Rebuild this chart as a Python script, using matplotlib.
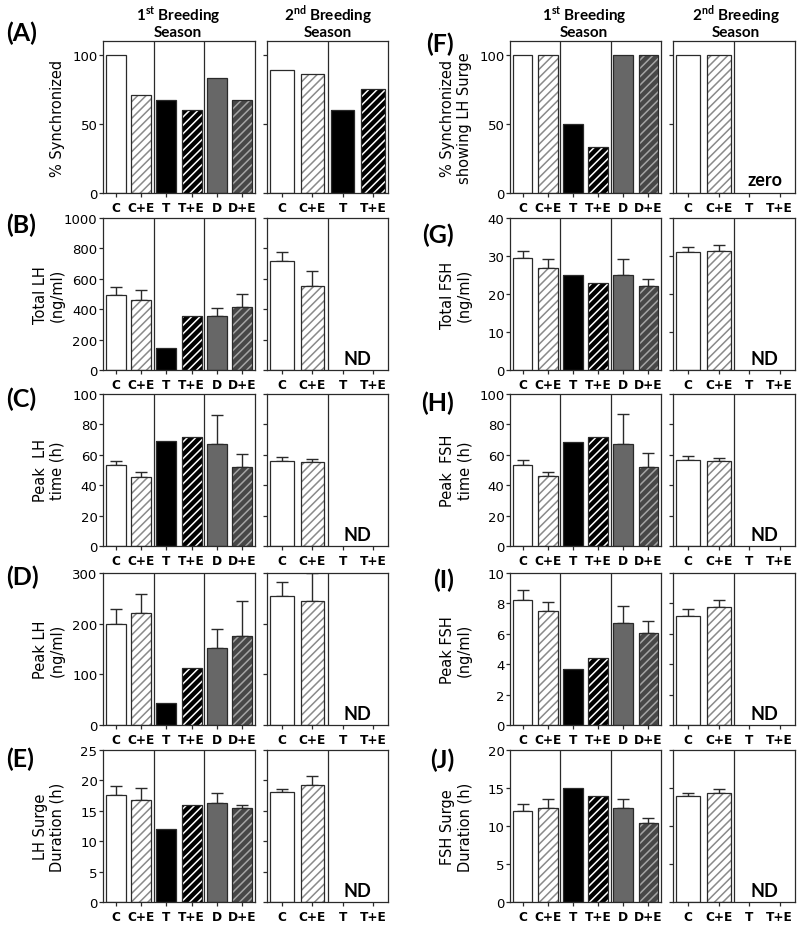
"""Hormone surge panels, 1st and 2nd breeding season."""

import numpy as np
import matplotlib.pyplot as plt
from matplotlib import transforms

plt.rcParams["font.family"] = ["DejaVu Sans"]
plt.rcParams["mathtext.fontset"] = "custom"
plt.rcParams["mathtext.bf"] = "Lato:bold"
plt.rcParams["mathtext.rm"] = "Lato"
plt.rcParams["hatch.linewidth"] = 1.1

groups_1st = ["C", "C+E", "T", "T+E", "D", "D+E"]
groups_2nd = ["C", "C+E", "T", "T+E"]

# (A) % synchronized
sync_1st = [100, 71, 67, 60, 83, 67]
sync_2nd = [89, 86, 60, 75]
# (F) % synchronized showing LH surge
sync_lh_1st = [100, 100, 50, 33, 100, 100]
sync_lh_2nd = [100, 100]
# (B) total LH
total_lh_1st = [492, 462, 145, 355, 353, 412]
total_lh_1st_err = [55, 63, 0, 0, 52, 91]
total_lh_2nd = [720, 555]
total_lh_2nd_err = [55, 95]
# (G) total FSH
total_fsh_1st = [29.5, 26.9, 24.9, 23.0, 25.1, 22.0]
total_fsh_1st_err = [1.9, 2.2, 0, 0, 4.0, 1.9]
total_fsh_2nd = [31.1, 31.2]
total_fsh_2nd_err = [1.4, 1.6]
# (C) peak LH time
peak_lh_time_1st = [53, 45.3, 68.9, 72, 67, 52]
peak_lh_time_1st_err = [3.2, 3.1, 0, 0, 19.4, 8.7]
peak_lh_time_2nd = [55.6, 55.4]
peak_lh_time_2nd_err = [3.0, 1.7]
# (H) peak FSH time
peak_fsh_time_1st = [53.4, 45.9, 68.1, 71.9, 67, 52.3]
peak_fsh_time_1st_err = [3.5, 3.1, 0, 0, 19.6, 9.0]
peak_fsh_time_2nd = [56.3, 55.6]
peak_fsh_time_2nd_err = [2.6, 2.0]
# (D) peak LH
peak_lh_1st = [200, 222, 44, 112, 152, 175]
peak_lh_1st_err = [28, 36, 0, 0, 37, 69]
peak_lh_2nd = [255, 244]
peak_lh_2nd_err = [28, 56]
# (I) peak FSH
peak_fsh_1st = [8.24, 7.52, 3.67, 4.44, 6.68, 6.07]
peak_fsh_1st_err = [0.66, 0.55, 0, 0, 1.12, 0.77]
peak_fsh_2nd = [7.19, 7.74]
peak_fsh_2nd_err = [0.46, 0.5]
# (E) LH surge duration
lh_dur_1st = [17.6, 16.7, 11.95, 15.9, 16.3, 15.5]
lh_dur_1st_err = [1.4, 2.1, 0, 0, 1.7, 0.45]
lh_dur_2nd = [18.1, 19.2]
lh_dur_2nd_err = [0.5, 1.5]
# (J) FSH surge duration
fsh_dur_1st = [11.96, 12.4, 15.0, 14.0, 12.4, 10.46]
fsh_dur_1st_err = [0.92, 1.1, 0, 0, 1.1, 0.54]
fsh_dur_2nd = [13.9, 14.3]
fsh_dur_2nd_err = [0.4, 0.6]

# bar looks: face colour, hatch colour (None = plain)
bar_faces = ["white", "white", "black", "black", "#676767", "#474747"]
bar_hatches = [None, "#8a8a8a", None, "white", None, "#a5a5a5"]

panels = [
    # letter, ylabel, ylim, yticks, 1st vals, 1st err, 2nd vals, 2nd err, note
    ("(A)", "% Synchronized", 110, [0, 50, 100],
     sync_1st, None, sync_2nd, None, None),
    ("(B)", "Total LH\n(ng/ml)", 1000, np.arange(0, 1001, 200),
     total_lh_1st, total_lh_1st_err, total_lh_2nd, total_lh_2nd_err, "ND"),
    ("(C)", "Peak  LH\ntime (h)", 100, np.arange(0, 101, 20),
     peak_lh_time_1st, peak_lh_time_1st_err, peak_lh_time_2nd,
     peak_lh_time_2nd_err, "ND"),
    ("(D)", "Peak LH\n(ng/ml)", 300, np.arange(0, 301, 100),
     peak_lh_1st, peak_lh_1st_err, peak_lh_2nd, peak_lh_2nd_err, "ND"),
    ("(E)", "LH Surge\nDuration (h)", 25, np.arange(0, 26, 5),
     lh_dur_1st, lh_dur_1st_err, lh_dur_2nd, lh_dur_2nd_err, "ND"),
    ("(F)", "% Synchronized\nshowing LH Surge", 110, [0, 50, 100],
     sync_lh_1st, None, sync_lh_2nd, None, "zero"),
    ("(G)", "Total FSH\n(ng/ml)", 40, np.arange(0, 41, 10),
     total_fsh_1st, total_fsh_1st_err, total_fsh_2nd, total_fsh_2nd_err, "ND"),
    ("(H)", "Peak  FSH\ntime (h)", 100, np.arange(0, 101, 20),
     peak_fsh_time_1st, peak_fsh_time_1st_err, peak_fsh_time_2nd,
     peak_fsh_time_2nd_err, "ND"),
    ("(I)", "Peak FSH\n(ng/ml)", 10, np.arange(0, 11, 2),
     peak_fsh_1st, peak_fsh_1st_err, peak_fsh_2nd, peak_fsh_2nd_err, "ND"),
    ("(J)", "FSH Surge\nDuration (h)", 20, np.arange(0, 21, 5),
     fsh_dur_1st, fsh_dur_1st_err, fsh_dur_2nd, fsh_dur_2nd_err, "ND"),
]

W, H = 800, 928
EDGE = "#2a2a2a"
BAR_W = 0.78


def draw_bars(ax, values, errs):
    for i, v in enumerate(values):
        ax.bar(i, v, width=BAR_W, color=bar_faces[i], edgecolor="none", zorder=2)
        if bar_hatches[i]:
            ax.bar(i, v, width=BAR_W, color="none", edgecolor=bar_hatches[i],
                   hatch="////", linewidth=0, zorder=2.1)
        ax.bar(i, v, width=BAR_W, color="none", edgecolor=EDGE,
               linewidth=0.9, zorder=2.2)
    if errs is not None:
        idx = [i for i, e in enumerate(errs) if e > 0]
        ax.errorbar(idx, [values[i] for i in idx],
                    yerr=[[0] * len(idx), [errs[i] for i in idx]],
                    fmt="none", ecolor=EDGE, elinewidth=1, capsize=4,
                    capthick=1, zorder=1.5)


def style_axes(ax, labels, top, ticks):
    ax.set_xlim(-0.5, len(labels) - 0.5)
    ax.set_ylim(0, top)
    ax.set_yticks(ticks)
    ax.set_xticks(range(len(labels)))
    ax.set_xticklabels(labels, fontweight="bold", fontsize=8.7)
    for s in ax.spines.values():
        s.set_color(EDGE)
        s.set_linewidth(0.9)
    ax.tick_params(axis="both", direction="out", length=3, width=0.9,
                   color=EDGE)
    ax.tick_params(axis="x", pad=3)
    ax.tick_params(axis="y", pad=1, labelsize=9.5)


fig = plt.figure(figsize=(W / 100, H / 100), dpi=100)

col_left = [(103, 152, 267, 121), (510, 151, 673, 122)]
row_tops = [42, 219, 395, 574, 751]
row_h = 152

for n, (letter, ylab, top, ticks, v1, e1, v2, e2, note) in enumerate(panels):
    col, row = divmod(n, 5)
    x1, w1, x2, w2 = col_left[col]
    y0 = row_tops[row]
    ax1 = fig.add_axes([x1 / W, 1 - (y0 + row_h) / H, w1 / W, row_h / H])
    ax2 = fig.add_axes([x2 / W, 1 - (y0 + row_h) / H, w2 / W, row_h / H])

    draw_bars(ax1, v1, e1)
    draw_bars(ax2, v2, e2)
    style_axes(ax1, groups_1st, top, ticks)
    style_axes(ax2, groups_2nd, top, ticks)
    ax2.set_yticklabels([])
    for xs in (1.5, 3.5):
        ax1.axvline(xs, color=EDGE, lw=0.9, zorder=1)
    ax2.axvline(1.5, color=EDGE, lw=0.9, zorder=1)

    ax1.set_ylabel(ylab, fontsize=10.5, linespacing=1.15)
    ax1.yaxis.set_label_coords(-0.25, 0.5)

    if note:
        trans = transforms.blended_transform_factory(ax2.transData, ax2.transAxes)
        ax2.text(2.5, 0.075 if note == "ND" else 0.09, note, transform=trans,
                 ha="center", va="center", fontsize=13, fontweight="bold",
                 family="Lato")

    letter_y = [33, 225, 399, 577, 759][row] if col == 0 else [44, 235, 403, 580, 760][row]
    if col == 0:
        fig.text(6 / W, 1 - letter_y / H, letter, ha="left", va="center",
                 fontsize=18, fontweight="bold", family="Lato")
    else:
        fig.text(454 / W, 1 - letter_y / H, letter, ha="right", va="center",
                 fontsize=18, fontweight="bold", family="Lato")

# season headers
for cx, txt in [(178, r"1$^{\mathbf{st}}$ Breeding"), (328, r"2$^{\mathbf{nd}}$ Breeding"),
                (584, r"1$^{\mathbf{st}}$ Breeding"), (736, r"2$^{\mathbf{nd}}$ Breeding")]:
    fig.text(cx / W, 1 - 15 / H, txt, ha="center", va="center",
             fontsize=11, fontweight="bold", family="Lato")
    fig.text(cx / W, 1 - 33 / H, "Season", ha="center", va="center",
             fontsize=11, fontweight="bold", family="Lato")

fig.savefig("out.png", dpi=100)
